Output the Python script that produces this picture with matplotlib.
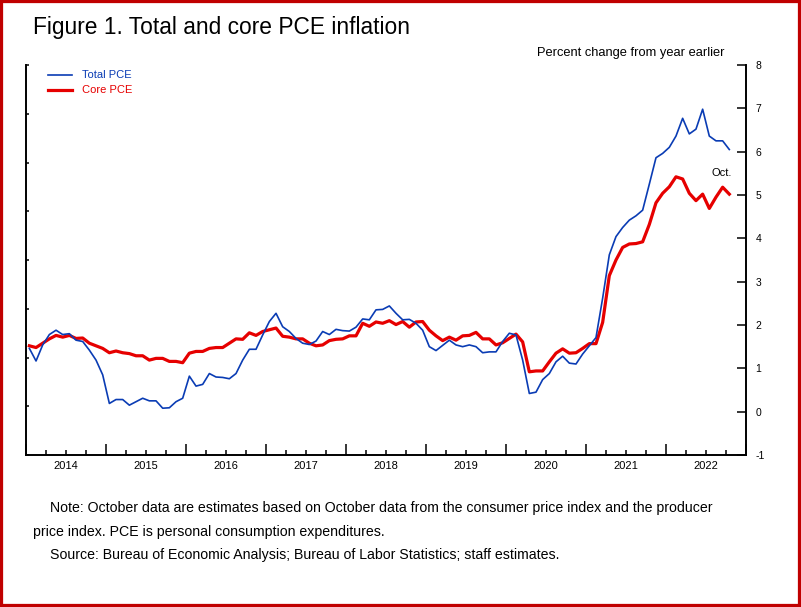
import numpy as np
import matplotlib
matplotlib.use('Agg')
import matplotlib.pyplot as plt
from matplotlib.patches import Rectangle
from matplotlib.ticker import MultipleLocator

plt.rcParams['font.family'] = ['Liberation Sans', 'DejaVu Sans']
plt.rcParams['axes.unicode_minus'] = False

# monthly data, Jan 2014 - Oct 2022 (percent change from year earlier)
start_year = 2014
total_pce = [1.46, 1.17, 1.54, 1.78, 1.88, 1.78, 1.80, 1.65, 1.62, 1.42, 1.19, 0.85,
             0.19, 0.28, 0.28, 0.15, 0.23, 0.31, 0.25, 0.25, 0.08, 0.09, 0.23, 0.31,
             0.82, 0.59, 0.63, 0.88, 0.80, 0.79, 0.76, 0.88, 1.19, 1.44, 1.44, 1.77,
             2.08, 2.27, 1.96, 1.85, 1.69, 1.58, 1.55, 1.63, 1.85, 1.78, 1.90, 1.87,
             1.86, 1.95, 2.14, 2.12, 2.35, 2.36, 2.44, 2.27, 2.12, 2.13, 2.04, 1.88,
             1.50, 1.41, 1.53, 1.65, 1.54, 1.50, 1.54, 1.50, 1.36, 1.38, 1.38, 1.62,
             1.81, 1.77, 1.19, 0.42, 0.45, 0.74, 0.88, 1.15, 1.28, 1.12, 1.10, 1.33,
             1.52, 1.71, 2.62, 3.62, 4.04, 4.25, 4.42, 4.52, 4.65, 5.25, 5.86, 5.96,
             6.10, 6.36, 6.77, 6.41, 6.52, 6.98, 6.36, 6.25, 6.25, 6.05]
core_pce = [1.52, 1.48, 1.58, 1.68, 1.76, 1.72, 1.76, 1.69, 1.70, 1.58, 1.52, 1.46,
            1.36, 1.40, 1.36, 1.34, 1.29, 1.29, 1.19, 1.23, 1.23, 1.16, 1.16, 1.13,
            1.35, 1.39, 1.39, 1.46, 1.48, 1.48, 1.58, 1.68, 1.67, 1.82, 1.76, 1.85,
            1.89, 1.93, 1.74, 1.72, 1.68, 1.68, 1.58, 1.52, 1.54, 1.64, 1.67, 1.68,
            1.75, 1.75, 2.04, 1.97, 2.07, 2.04, 2.10, 2.01, 2.08, 1.95, 2.07, 2.08,
            1.88, 1.75, 1.64, 1.72, 1.65, 1.75, 1.76, 1.83, 1.68, 1.68, 1.54, 1.59,
            1.69, 1.79, 1.61, 0.92, 0.94, 0.94, 1.15, 1.35, 1.45, 1.35, 1.36, 1.46,
            1.57, 1.57, 2.06, 3.14, 3.50, 3.79, 3.87, 3.88, 3.92, 4.32, 4.82, 5.04,
            5.19, 5.42, 5.37, 5.04, 4.87, 5.02, 4.69, 4.95, 5.18, 5.02]
years = list(range(2014, 2023))
year_labels = [str(y) for y in years]

# x position: middle of each month, in fractional years
t = start_year + (np.arange(len(total_pce)) + 0.5) / 12.0

blue = '#0a3cb4'
red = '#e60000'

fig = plt.figure(figsize=(8.01, 6.07), dpi=100)
ax = fig.add_axes([0.0325, 0.2504, 0.8988, 0.6425])

# left spine has its own unlabeled ticks (8 divisions)
ax2 = ax.twinx()
ax2.set_ylim(0, 8)
ax2.set_yticks(range(9))
ax2.yaxis.set_ticks_position('left')
ax2.tick_params(axis='y', direction='in', length=2.5, width=1.1, labelleft=False, labelright=False)
for s in ax2.spines.values():
    s.set_visible(False)

ax.plot(t, total_pce, color=blue, lw=1.2, zorder=3)
ax.plot(t, core_pce, color=red, lw=2.3, zorder=2)

ax.set_xlim(2014, 2023)
ax.set_ylim(-1, 8)

for s in ['left', 'bottom', 'right']:
    ax.spines[s].set_linewidth(1.4)
ax.spines['top'].set_visible(False)

# x axis: long ticks at year boundaries, short at quarters, labels mid-year
ax.xaxis.set_major_locator(MultipleLocator(1))
ax.xaxis.set_minor_locator(MultipleLocator(0.25))
ax.tick_params(axis='x', which='major', direction='in', length=8, width=1.1, labelbottom=False)
ax.tick_params(axis='x', which='minor', direction='in', length=3.8, width=1.1)
sec = ax.secondary_xaxis('bottom')
sec.set_xticks([y + 0.5 for y in years], year_labels)
sec.tick_params(length=0, pad=4, labelsize=8)
sec.spines['bottom'].set_visible(False)

# right y axis with labels
ax.yaxis.set_ticks_position('right')
ax.set_yticks(range(-1, 9))
ax.tick_params(axis='y', direction='in', length=6.5, width=1.1, pad=7, labelsize=7.5,
               left=False, right=True, labelleft=False, labelright=True)

# legend drawn as lines and text
ax.plot([2014.28, 2014.57], [7.77, 7.77], color=blue, lw=1.2)
ax.plot([2014.28, 2014.57], [7.43, 7.43], color=red, lw=2.3)
ax.text(2014.70, 7.77, 'Total PCE', color=blue, fontsize=8, va='center')
ax.text(2014.70, 7.43, 'Core PCE', color=red, fontsize=8, va='center')

ax.text(t[-1] - 0.09, 5.5, 'Oct.', fontsize=8, ha='center', va='center')

fig.text(0.041, 0.955, 'Figure 1. Total and core PCE inflation', fontsize=16.4, va='center')
fig.text(0.905, 0.912, 'Percent change from year earlier', fontsize=9.3, ha='right', va='center')

fig.text(0.062, 0.163, 'Note: October data are estimates based on October data from the consumer price index and the producer',
         fontsize=10.2, va='center')
fig.text(0.041, 0.124, 'price index. PCE is personal consumption expenditures.', fontsize=10.2, va='center')
fig.text(0.062, 0.086, 'Source: Bureau of Economic Analysis; Bureau of Labor Statistics; staff estimates.',
         fontsize=10.2, va='center')

fig.patches.append(Rectangle((0, 0), 1, 1, transform=fig.transFigure, fill=False,
                             edgecolor='#c00000', lw=4.5, zorder=10))

fig.savefig('out.png', dpi=100)
